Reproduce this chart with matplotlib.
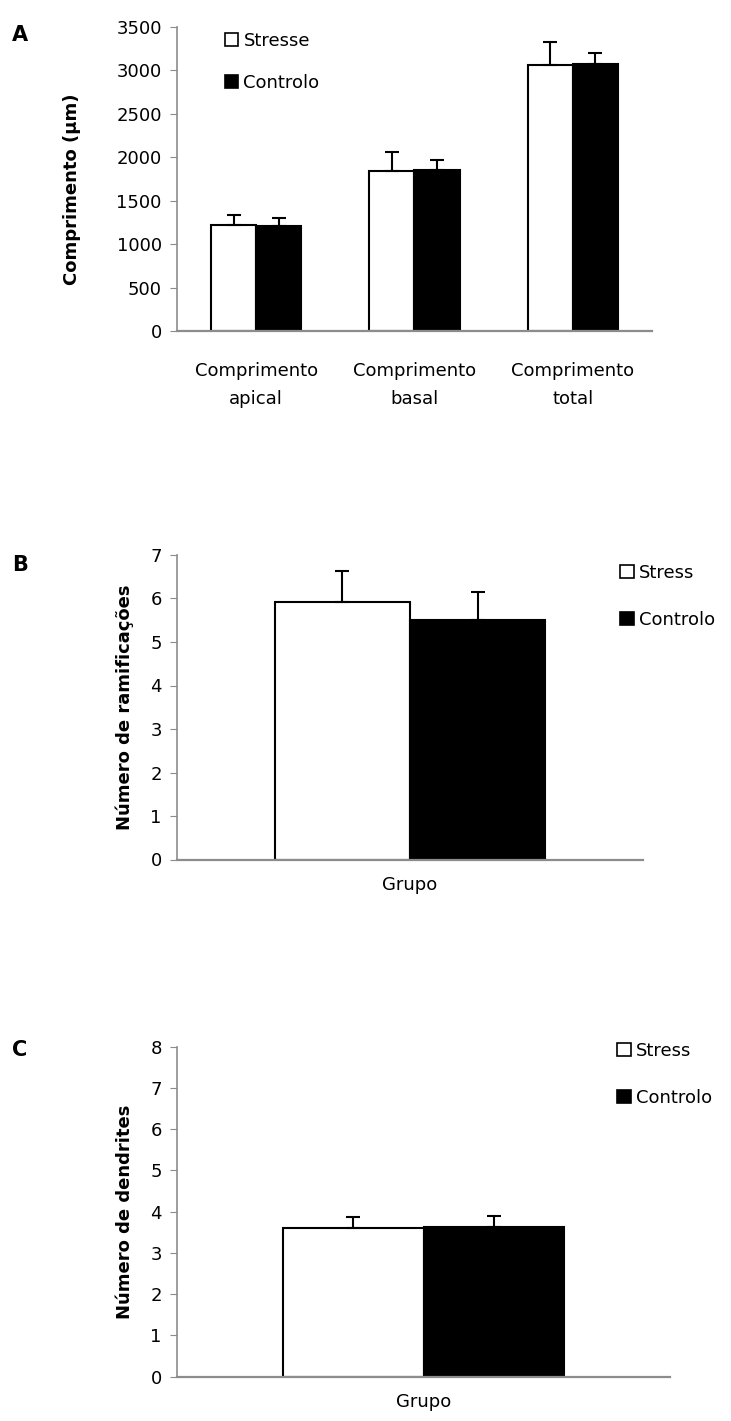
import matplotlib
matplotlib.use("Agg")
import matplotlib.pyplot as plt
import numpy as np
from matplotlib.patches import Patch

plt.rcParams['font.family'] = ['DejaVu Sans']

# Panel A data
cats_a = ["Comprimento\napical", "Comprimento\nbasal", "Comprimento\ntotal"]
stress_a = [1219, 1846, 3062]
stress_a_err = [112, 211, 263]
control_a = [1209, 1850, 3073]
control_a_err = [91, 119, 122]
yticks_a = [0, 500, 1000, 1500, 2000, 2500, 3000, 3500]

# Panel B data
stress_b = [5.93]
stress_b_err = [0.71]
control_b = [5.51]
control_b_err = [0.64]
yticks_b = [0, 1, 2, 3, 4, 5, 6, 7]

# Panel C data
stress_c = [3.60]
stress_c_err = [0.26]
control_c = [3.64]
control_c_err = [0.26]
yticks_c = [0, 1, 2, 3, 4, 5, 6, 7, 8]

W, H = 731, 1421
fig = plt.figure(figsize=(W / 100, H / 100), dpi=100)

def axes_px(left, right, top, bottom):
    return fig.add_axes([left / W, 1 - bottom / H, (right - left) / W, (bottom - top) / H])

GRAY = "#8c8c8c"
TICK_FS = 13

def style(ax, yticks):
    for s in ["top", "right"]:
        ax.spines[s].set_visible(False)
    ax.spines["left"].set_color(GRAY)
    ax.spines["bottom"].set_color(GRAY)
    ax.spines["left"].set_linewidth(1.2)
    ax.spines["bottom"].set_linewidth(1.6)
    ax.set_yticks(yticks)
    ax.set_ylim(yticks[0], yticks[-1])
    ax.tick_params(axis="y", direction="out", length=5, color=GRAY, labelsize=TICK_FS, pad=6)
    ax.tick_params(axis="x", length=0, labelsize=TICK_FS, pad=12)

def draw_bars(ax, x, s, se, c, ce, w):
    ax.bar(x - w / 2, s, w, color="white", edgecolor="black", linewidth=1.5, zorder=2)
    ax.bar(x + w / 2, c, w, color="black", edgecolor="black", linewidth=1.5, zorder=2)
    ax.errorbar(x - w / 2, s, yerr=[np.zeros(len(s)), se], fmt="none", ecolor="black",
                elinewidth=1.5, capsize=5, capthick=1.5, zorder=3)
    ax.errorbar(x + w / 2, c, yerr=[np.zeros(len(c)), ce], fmt="none", ecolor="black",
                elinewidth=1.5, capsize=5, capthick=1.5, zorder=3)

def legend_handles(label1):
    return [Patch(facecolor="white", edgecolor="black", linewidth=1.2, label=label1),
            Patch(facecolor="black", edgecolor="black", linewidth=1.2, label="Controlo")]

# ---------- Panel A ----------
axA = axes_px(177, 652, 27, 331)
xa = np.arange(len(cats_a))
draw_bars(axA, xa, stress_a, stress_a_err, control_a, control_a_err, 0.285)
axA.set_xlim(-0.5, len(cats_a) - 0.5)
style(axA, yticks_a)
axA.set_xticks(xa)
axA.set_xticklabels(cats_a, linespacing=1.75)
axA.tick_params(axis="x", pad=22)
axA.set_ylabel("Comprimento (µm)", fontsize=13, fontweight="bold")
axA.yaxis.set_label_coords(-96 / 475, 0.465)
axA.legend(handles=legend_handles("Stresse"), loc="upper left", bbox_to_anchor=(0.1, 0.985),
           frameon=False, fontsize=TICK_FS, handlelength=0.75, handleheight=0.75,
           handletextpad=0.3, labelspacing=1.35, borderaxespad=0, borderpad=0)
fig.text(12 / W, 1 - 35 / H, "A", fontsize=15, fontweight="bold", va="center", ha="left")

# ---------- Panel B ----------
axB = axes_px(177, 643, 555, 859.5)
draw_bars(axB, np.array([0.0]), stress_b, stress_b_err, control_b, control_b_err, 0.29)
axB.set_xlim(-0.5, 0.5)
style(axB, yticks_b)
axB.set_xticks([0])
axB.set_xticklabels(["Grupo"])
axB.set_ylabel("Número de ramificações", fontsize=13, fontweight="bold", labelpad=12)
fig.legend(handles=legend_handles("Stress"), loc="upper left",
           bbox_to_anchor=(620 / W, 1 - 564 / H), frameon=False, fontsize=TICK_FS,
           handlelength=0.75, handleheight=0.75, handletextpad=0.3, labelspacing=1.6,
           borderaxespad=0, borderpad=0)
fig.text(12 / W, 1 - 565 / H, "B", fontsize=15, fontweight="bold", va="center", ha="left")

# ---------- Panel C ----------
axC = axes_px(177, 670, 1046.7, 1376.7)
draw_bars(axC, np.array([0.0]), stress_c, stress_c_err, control_c, control_c_err, 0.284)
axC.set_xlim(-0.5, 0.5)
style(axC, yticks_c)
axC.set_xticks([0])
axC.set_xticklabels(["Grupo"])
axC.set_ylabel("Número de dendrites", fontsize=13, fontweight="bold", labelpad=12)
fig.legend(handles=legend_handles("Stress"), loc="upper left",
           bbox_to_anchor=(617 / W, 1 - 1042 / H), frameon=False, fontsize=TICK_FS,
           handlelength=0.75, handleheight=0.75, handletextpad=0.3, labelspacing=1.6,
           borderaxespad=0, borderpad=0)
fig.text(12 / W, 1 - 1050 / H, "C", fontsize=15, fontweight="bold", va="center", ha="left")

fig.savefig("out.png", dpi=100, facecolor="white")
